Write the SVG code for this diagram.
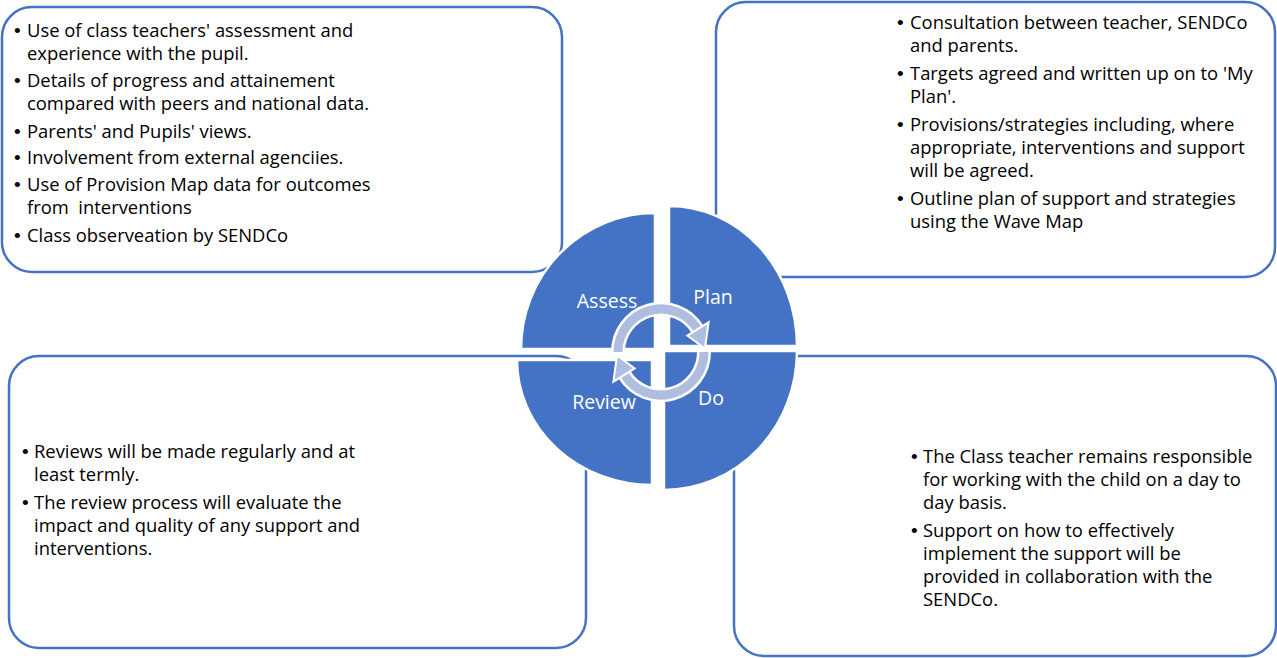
<svg xmlns="http://www.w3.org/2000/svg" width="1277" height="658" viewBox="0 0 1277 658">
<style>
.box{fill:#fff;stroke:#4472C4;stroke-width:2.5}
.q{fill:#4472C4;stroke:#fff;stroke-width:2.5}
.t{font-family:"Open Sans","Liberation Sans",sans-serif;font-size:18.4px;fill:#000}
.b{font-family:"Liberation Sans",sans-serif;font-size:19px;fill:#000}
.ql{font-family:"Open Sans","Liberation Sans",sans-serif;font-size:19.5px;fill:#fff;text-anchor:middle}
.arcw{fill:none;stroke:#fff;stroke-width:14}
.arc{fill:none;stroke:#AFBDE0;stroke-width:9}
.head{fill:#AFBDE0;stroke:#fff;stroke-width:2;stroke-linejoin:miter}
</style>
<rect width="1277" height="658" fill="#fff"/>
<g id="box-assess"><rect class="box" x="2" y="7" width="560" height="265" rx="30"/></g>
<g id="box-plan"><rect class="box" x="716" y="2" width="559" height="275" rx="30"/></g>
<g id="box-review"><rect class="box" x="9" y="356" width="577" height="292" rx="30"/></g>
<g id="box-do"><rect class="box" x="734" y="356" width="542" height="300" rx="30"/></g>

<g id="node-assess"><path class="q" d="M655,349 L521,349 A134,136 0 0 1 655,213 Z"/><text class="ql" x="607" y="308">Assess</text></g>
<g id="node-plan"><path class="q" d="M669,346 L669,206 A128,140 0 0 1 797,346 Z"/><text class="ql" x="713" y="304">Plan</text></g>
<g id="node-do"><path class="q" d="M664,351 L797,351 A133,139 0 0 1 664,490 Z"/><text class="ql" x="711" y="405">Do</text></g>
<g id="node-review"><path class="q" d="M652,360 L652,485 A135,125 0 0 1 517,360 Z"/><text class="ql" x="604" y="409">Review</text></g>

<g id="connectors">
<path class="arcw" d="M618,352 A43,43 0 0 1 697.5,329.2"/>
<path class="arcw" d="M704,352 A43,43 0 0 1 624.5,374.8"/>
<path class="arc" d="M618,352 A43,43 0 0 1 697.5,329.2"/>
<path class="arc" d="M704,352 A43,43 0 0 1 624.5,374.8"/>
<polygon class="head" points="687.3,335.6 708.6,322.3 705,348.5"/>
<polygon class="head" points="634.7,368.4 613.4,381.7 617,355.5"/>
</g>

<g id="text-assess">
<text class="b" x="14" y="37">•</text><text class="t" x="27" y="37">Use of class teachers' assessment and</text>
<text class="t" x="27" y="60">experience with the pupil.</text>
<text class="b" x="14" y="87">•</text><text class="t" x="27" y="87">Details of progress and attainement</text>
<text class="t" x="27" y="110">compared with peers and national data.</text>
<text class="b" x="14" y="138">•</text><text class="t" x="27" y="138">Parents' and Pupils' views.</text>
<text class="b" x="14" y="164">•</text><text class="t" x="27" y="164">Involvement from external agenciies.</text>
<text class="b" x="14" y="191">•</text><text class="t" x="27" y="191">Use of Provision Map data for outcomes</text>
<text class="t" x="27" y="214" xml:space="preserve">from  interventions</text>
<text class="b" x="14" y="242">•</text><text class="t" x="27" y="242">Class observeation by SENDCo</text>
</g>

<g id="text-plan">
<text class="b" x="897" y="29">•</text><text class="t" x="910" y="29">Consultation between teacher, SENDCo</text>
<text class="t" x="910" y="52">and parents.</text>
<text class="b" x="897" y="80">•</text><text class="t" x="910" y="80">Targets agreed and written up on to 'My</text>
<text class="t" x="910" y="103">Plan'.</text>
<text class="b" x="897" y="131">•</text><text class="t" x="910" y="131">Provisions/strategies including, where</text>
<text class="t" x="910" y="154">appropriate, interventions and support</text>
<text class="t" x="910" y="177">will be agreed.</text>
<text class="b" x="897" y="205">•</text><text class="t" x="910" y="205">Outline plan of support and strategies</text>
<text class="t" x="910" y="228">using the Wave Map</text>
</g>

<g id="text-review">
<text class="b" x="22" y="458">•</text><text class="t" x="34" y="458">Reviews will be made regularly and at</text>
<text class="t" x="34" y="481">least termly.</text>
<text class="b" x="22" y="509">•</text><text class="t" x="34" y="509">The review process will evaluate the</text>
<text class="t" x="34" y="532">impact and quality of any support and</text>
<text class="t" x="34" y="555">interventions.</text>
</g>

<g id="text-do">
<text class="b" x="911" y="463">•</text><text class="t" x="923" y="463">The Class teacher remains responsible</text>
<text class="t" x="923" y="486">for working with the child on a day to</text>
<text class="t" x="923" y="509">day basis.</text>
<text class="b" x="911" y="537">•</text><text class="t" x="923" y="537">Support on how to effectively</text>
<text class="t" x="923" y="560">implement the support will be</text>
<text class="t" x="923" y="583">provided in collaboration with the</text>
<text class="t" x="923" y="606">SENDCo.</text>
</g>
</svg>
